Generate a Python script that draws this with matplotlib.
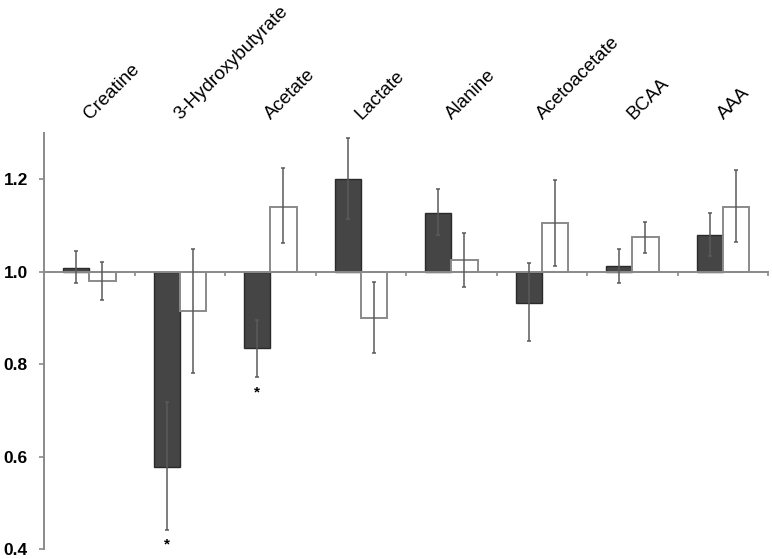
import numpy as np
import matplotlib
matplotlib.use("Agg")
import matplotlib.pyplot as plt

plt.rcParams["font.family"] = ["Liberation Sans", "DejaVu Sans"]

# data (baseline = 1.0)
categories = ["Creatine", "3-Hydroxybutyrate", "Acetate", "Lactate",
              "Alanine", "Acetoacetate", "BCAA", "AAA"]
dark_vals = [1.009, 0.578, 0.835, 1.200, 1.128, 0.933, 1.012, 1.080]
dark_lo = [0.975, 0.440, 0.772, 1.113, 1.079, 0.850, 0.975, 1.033]
dark_hi = [1.045, 0.718, 0.895, 1.289, 1.179, 1.019, 1.050, 1.128]
white_vals = [0.979, 0.915, 1.141, 0.899, 1.025, 1.106, 1.075, 1.141]
white_lo = [0.938, 0.780, 1.062, 0.825, 0.966, 1.013, 1.040, 1.065]
white_hi = [1.020, 1.050, 1.224, 0.978, 1.083, 1.198, 1.107, 1.219]
star_idx = [1, 2]
star_y = [0.410, 0.738]
yticks = [0.4, 0.6, 0.8, 1.0, 1.2]

base = 1.0
w = 0.29
x = np.arange(len(categories))

fig = plt.figure(figsize=(7.72, 5.59), dpi=100)
ax = fig.add_axes([0.057, 0.018, 0.938, 0.744])

dv = np.array(dark_vals); wv = np.array(white_vals)
ax.bar(x - w / 2, dv - base, w, bottom=base, color="#454545",
       edgecolor="#2a2a2a", linewidth=1.0, zorder=2)
ax.bar(x + w / 2, wv - base, w, bottom=base, color="white",
       edgecolor="#8a8a8a", linewidth=1.4, zorder=2)

ax.errorbar(x - w / 2, dv, yerr=[dv - np.array(dark_lo), np.array(dark_hi) - dv],
            fmt="none", ecolor="#5a5a5a", elinewidth=1.1, capsize=1.5,
            capthick=1.1, zorder=3)
ax.errorbar(x + w / 2, wv, yerr=[wv - np.array(white_lo), np.array(white_hi) - wv],
            fmt="none", ecolor="#5a5a5a", elinewidth=1.1, capsize=1.5,
            capthick=1.1, zorder=3)

for i, ys in zip(star_idx, star_y):
    ax.text(x[i] - w / 2, ys, "*", ha="center", va="center",
            fontsize=11, fontweight="bold", color="black")

ax.set_xlim(-0.5, 7.5)
ax.set_ylim(0.4, 1.3)
ax.set_yticks(yticks)
ax.set_yticklabels([f"{v:.1f}" for v in yticks], fontsize=12.5, fontweight="bold")
ax.set_xticks(np.arange(0.5, 8, 1.0))
ax.set_xticklabels([])

for s in ["top", "right"]:
    ax.spines[s].set_visible(False)
ax.spines["bottom"].set_position(("data", base))
ax.spines["bottom"].set_color("#8a8a8a")
ax.spines["bottom"].set_linewidth(1.4)
ax.spines["left"].set_color("#8a8a8a")
ax.spines["left"].set_linewidth(1.4)
ax.tick_params(axis="y", direction="out", length=3.6, width=1.2, color="#8a8a8a", pad=8)
ax.tick_params(axis="x", direction="out", length=3, width=1.2, color="#8a8a8a")

for xi, lab in zip(x, categories):
    ax.text(xi + 0.04, 1.322, lab, rotation=45, rotation_mode="anchor",
            ha="left", va="bottom", fontsize=13.5, clip_on=False)

fig.savefig("out.png", dpi=100)
